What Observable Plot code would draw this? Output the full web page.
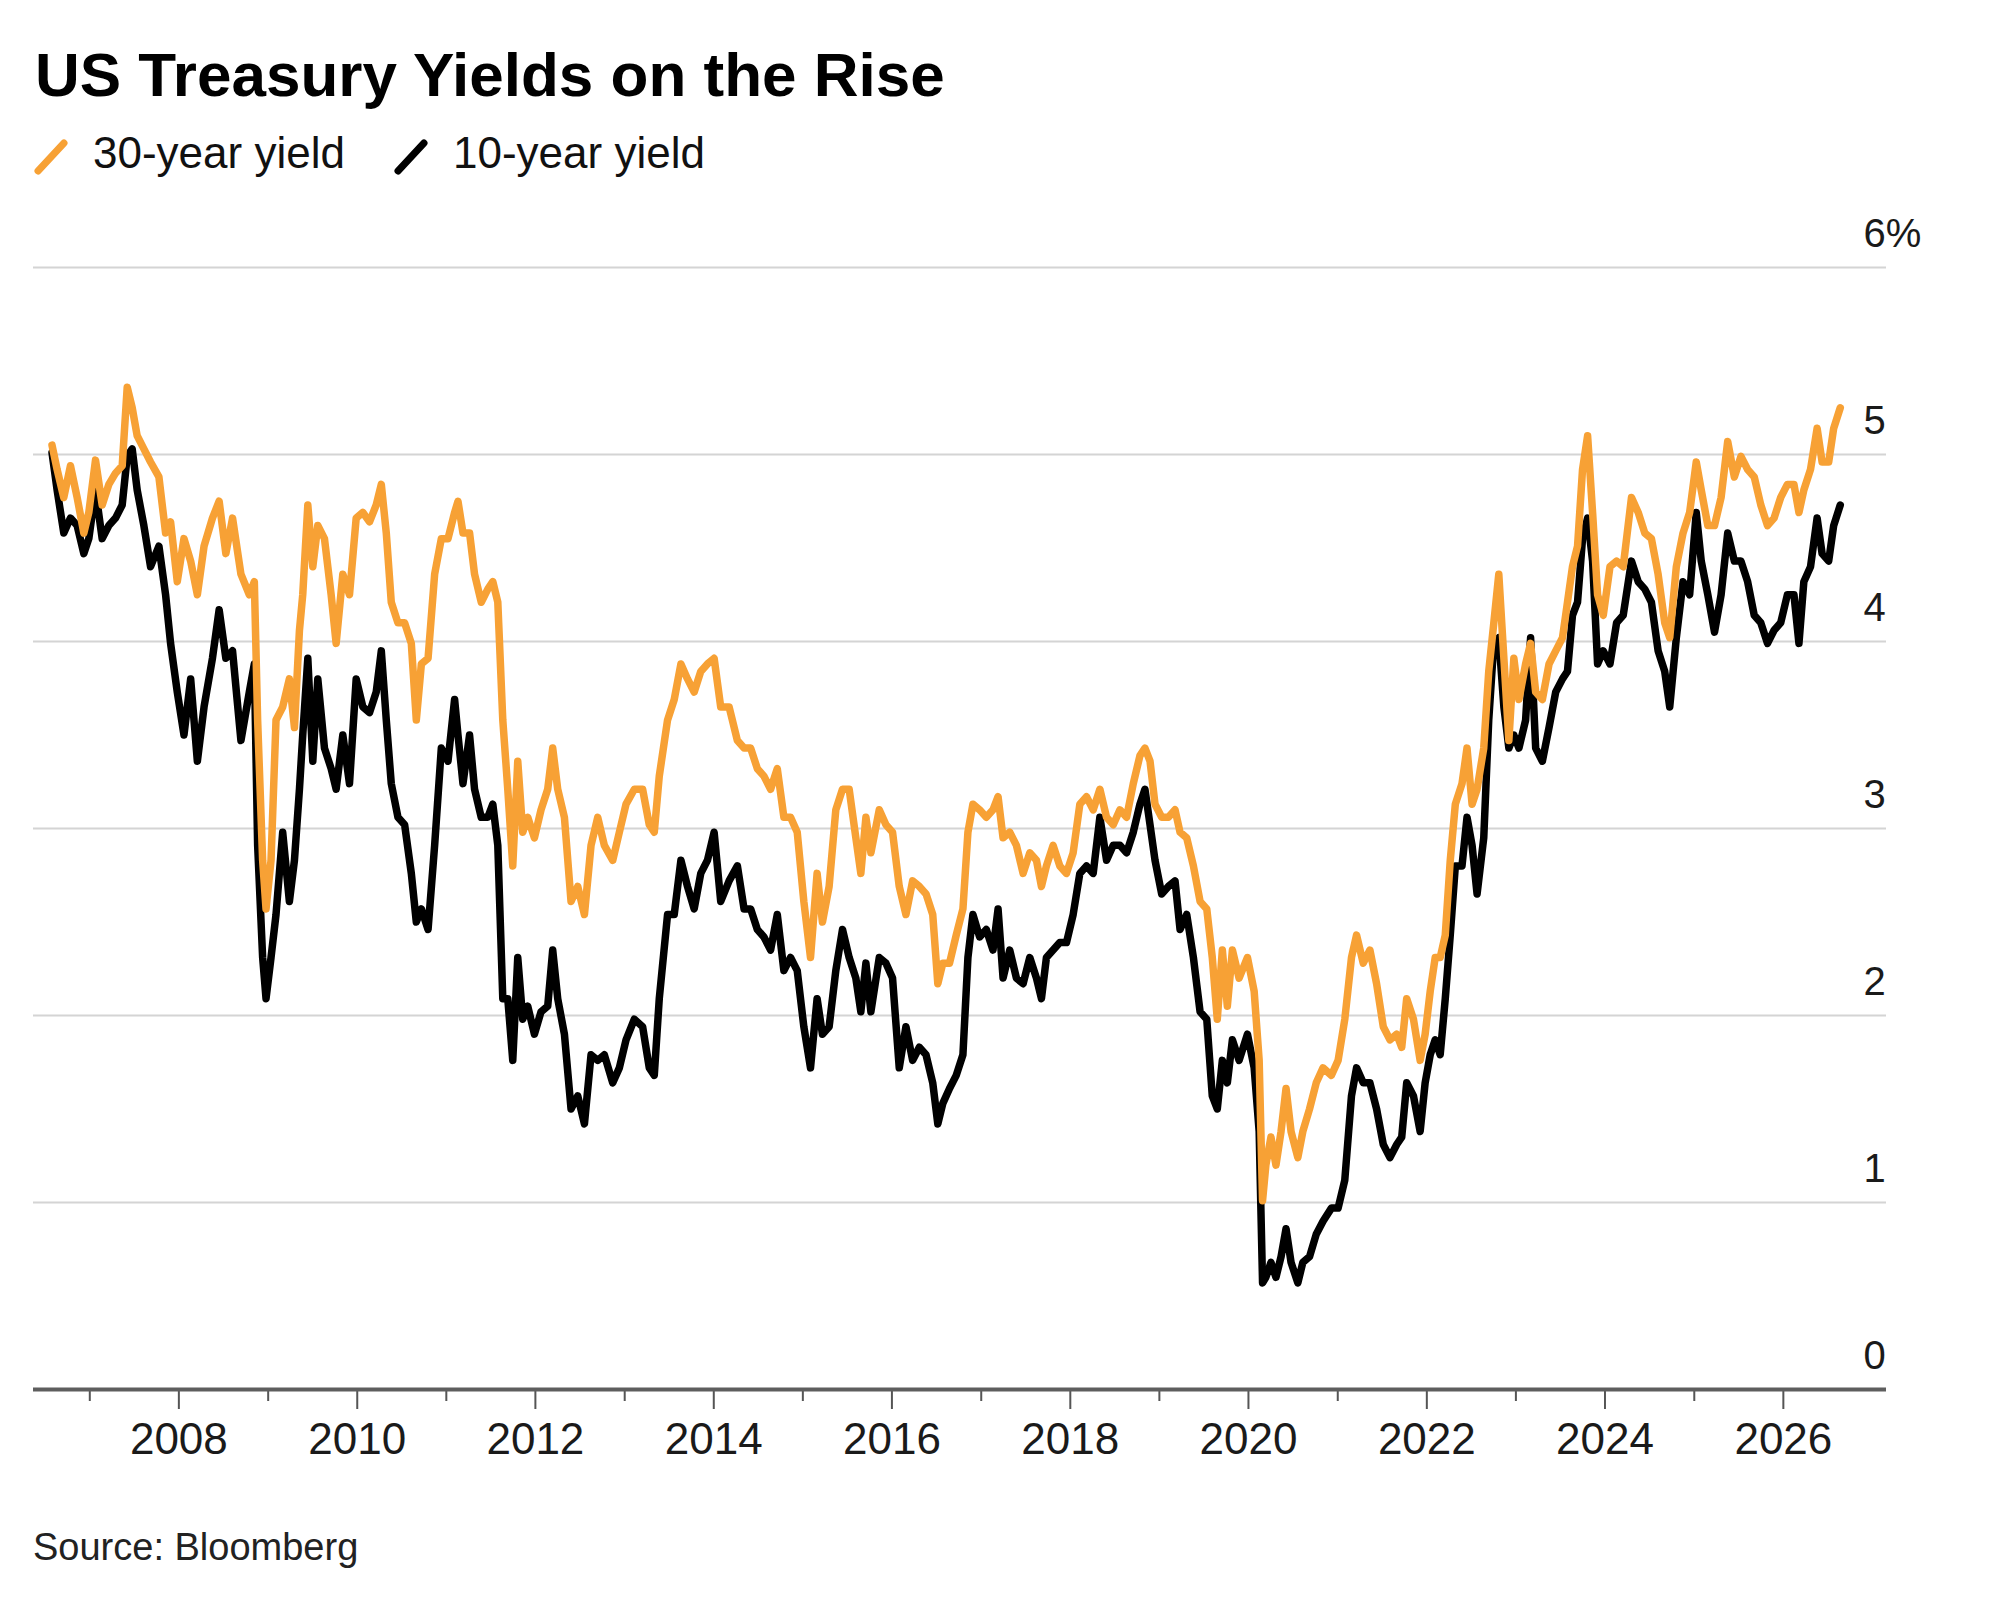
<!DOCTYPE html>
<html>
<head>
<meta charset="utf-8">
<script src="https://cdn.jsdelivr.net/npm/d3@7"></script>
<script src="https://cdn.jsdelivr.net/npm/@observablehq/plot@0.6"></script>
<style>
  html, body { margin: 0; padding: 0; background: #fff; }
  body { font-family: "Liberation Sans", Arial, Helvetica, sans-serif; color: #000; }
  #wrap { position: relative; width: 2000px; height: 1619px; overflow: hidden; }
  .title { position: absolute; left: 35px; top: 44px; font-size: 62px; line-height: 62px; font-weight: 700; white-space: nowrap; color: #000; }
  .lg-text { position: absolute; top: 131px; font-size: 44px; line-height: 44px; white-space: nowrap; color: #111; }
  .lg-sw { position: absolute; top: 139px; width: 36px; height: 36px; }
  #chart { position: absolute; left: 0; top: 200px; }
  .source { position: absolute; left: 33px; top: 1528px; font-size: 38px; line-height: 38px; color: #222; white-space: nowrap; }
</style>
</head>
<body>
<div id="wrap">
  <div class="title">US Treasury Yields on the Rise</div>
  <svg class="lg-sw" style="left:33px" viewBox="0 0 36 36"><line x1="5" y1="32" x2="31" y2="4" stroke="#f7a135" stroke-width="7" stroke-linecap="round"/></svg>
  <div class="lg-text" style="left:93px">30-year yield</div>
  <svg class="lg-sw" style="left:393px" viewBox="0 0 36 36"><line x1="5" y1="32" x2="31" y2="4" stroke="#000" stroke-width="7" stroke-linecap="round"/></svg>
  <div class="lg-text" style="left:453px">10-year yield</div>
  <div id="chart"></div>
  <div class="source">Source: Bloomberg</div>
</div>
<script>
// Decimal-year sample dates
const years = [
  2006.576,2006.633,2006.708,2006.783,2006.858,2006.933,2006.989,2007.064,2007.139,2007.214,
  2007.289,2007.364,2007.420,2007.476,2007.532,2007.607,2007.682,2007.776,2007.851,2007.907,
  2007.982,2008.057,2008.132,2008.207,2008.282,2008.376,2008.451,2008.526,2008.601,2008.695,
  2008.789,2008.845,2008.882,2008.938,2008.976,2009.032,2009.088,2009.163,2009.238,2009.295,
  2009.351,2009.388,2009.445,2009.501,2009.557,2009.632,2009.707,2009.763,2009.838,2009.913,
  2009.988,2010.063,2010.138,2010.213,2010.270,2010.326,2010.382,2010.457,2010.532,2010.607,
  2010.663,2010.720,2010.795,
  2010.869,2010.944,2011.019,2011.093,2011.131,2011.187,2011.261,2011.317,2011.392,2011.466,
  2011.522,2011.578,2011.634,2011.690,2011.746,2011.802,2011.858,2011.914,2011.989,2012.063,
  2012.138,2012.194,2012.250,2012.325,2012.399,2012.474,2012.549,2012.623,2012.698,2012.772,
  2012.866,2012.940,2013.015,2013.108,2013.201,2013.276,2013.332,2013.388,2013.481,2013.556,
  2013.631,2013.705,2013.780,2013.854,2013.929,2014.004,2014.078,2014.172,2014.265,2014.340,
  2014.414,2014.489,2014.563,2014.638,2014.713,2014.787,2014.862,2014.937,2015.011,2015.086,
  2015.160,
  2015.220,2015.295,2015.370,2015.445,2015.520,2015.595,2015.651,2015.708,2015.764,2015.858,
  2015.933,2016.007,2016.082,2016.157,2016.232,2016.307,2016.382,2016.457,2016.514,2016.570,
  2016.645,2016.720,2016.795,2016.851,2016.907,2016.982,2017.057,2017.132,2017.189,2017.245,
  2017.320,2017.395,2017.470,2017.545,2017.620,2017.676,2017.732,2017.807,2017.882,2017.957,
  2018.032,2018.107,2018.182,2018.257,2018.332,2018.407,2018.482,2018.557,2018.632,2018.707,
  2018.782,2018.838,2018.895,2018.951,2019.026,2019.101,2019.176,2019.232,2019.307,2019.382,
  2019.457,2019.532,
  2019.594,2019.650,2019.707,2019.763,2019.820,2019.895,2019.989,2020.064,2020.120,2020.158,
  2020.195,2020.252,2020.308,2020.365,2020.421,2020.477,2020.553,2020.609,2020.684,2020.759,
  2020.835,2020.929,2021.004,2021.079,2021.154,2021.211,2021.286,2021.361,2021.436,2021.511,
  2021.586,2021.662,2021.718,2021.774,2021.850,2021.925,2021.981,2022.038,2022.094,2022.150,
  2022.207,2022.263,2022.320,2022.395,2022.451,2022.508,2022.564,2022.639,2022.695,2022.752,
  2022.808,2022.865,2022.921,2022.977,2023.034,2023.109,2023.165,2023.222,2023.297,2023.372,
  2023.447,2023.523,2023.579,2023.635,2023.692,2023.748,2023.805,2023.861,2023.917,
  2023.981,2024.056,2024.130,2024.204,2024.297,2024.372,2024.446,2024.520,2024.595,2024.669,
  2024.725,2024.799,2024.874,2024.948,2025.022,2025.078,2025.152,2025.227,2025.301,2025.375,
  2025.450,2025.524,2025.599,2025.673,2025.747,2025.822,2025.896,2025.970,2026.045,2026.119,
  2026.175,2026.230,2026.305,2026.379,2026.435,2026.509,2026.565,2026.639
];

// 30-year yield, %
const y30 = [
  5.05,4.92,4.77,4.94,4.77,4.58,4.69,4.97,4.73,4.84,
  4.90,4.94,5.36,5.25,5.10,5.03,4.96,4.88,4.58,4.64,
  4.32,4.55,4.43,4.25,4.51,4.66,4.75,4.47,4.66,4.36,
  4.25,4.32,3.58,2.83,2.57,2.83,3.58,3.65,3.80,3.54,
  4.06,4.25,4.73,4.40,4.62,4.55,4.25,3.99,4.36,4.25,
  4.66,4.69,4.64,4.73,4.84,4.58,4.21,4.10,4.10,3.99,
  3.58,3.88,3.91,
  4.36,4.55,4.55,4.69,4.75,4.58,4.58,4.36,4.21,4.28,
  4.32,4.21,3.58,3.21,2.80,3.36,2.98,3.06,2.95,3.10,
  3.21,3.43,3.21,3.06,2.61,2.69,2.54,2.91,3.06,2.91,
  2.83,2.98,3.13,3.21,3.21,3.02,2.98,3.28,3.58,3.69,
  3.88,3.80,3.73,3.84,3.88,3.91,3.65,3.65,3.47,3.43,
  3.43,3.32,3.28,3.21,3.32,3.06,3.06,2.98,2.61,2.31,
  2.76,
  2.50,2.69,3.10,3.21,3.21,2.95,2.76,3.06,2.87,3.10,
  3.02,2.98,2.69,2.54,2.72,2.69,2.65,2.54,2.17,2.28,
  2.28,2.43,2.57,2.98,3.13,3.10,3.06,3.10,3.17,2.95,
  2.98,2.91,2.76,2.87,2.83,2.69,2.80,2.91,2.80,2.76,
  2.87,3.13,3.17,3.10,3.21,3.06,3.02,3.10,3.06,3.24,
  3.39,3.43,3.36,3.13,3.06,3.06,3.10,2.98,2.95,2.80,
  2.61,2.57,
  2.31,1.98,2.35,2.05,2.35,2.20,2.31,2.13,1.76,1.01,
  1.20,1.35,1.20,1.38,1.61,1.38,1.24,1.38,1.50,1.64,
  1.72,1.68,1.76,1.98,2.31,2.43,2.28,2.35,2.17,1.94,
  1.87,1.90,1.83,2.09,1.98,1.76,1.90,2.13,2.31,2.31,
  2.43,2.83,3.13,3.24,3.43,3.13,3.21,3.43,3.84,4.10,
  4.36,3.91,3.47,3.91,3.69,3.88,3.99,3.73,3.69,3.88,
  3.95,4.02,4.21,4.40,4.51,4.92,5.10,4.69,4.25,
  4.14,4.40,4.43,4.40,4.77,4.69,4.58,4.55,4.36,4.10,
  4.02,4.40,4.58,4.69,4.96,4.81,4.62,4.62,4.77,5.07,
  4.88,4.99,4.92,4.88,4.73,4.62,4.66,4.77,4.84,4.84,
  4.69,4.81,4.92,5.14,4.96,4.96,5.14,5.25
];

// 10-year yield, %
const y10 = [
  5.01,4.81,4.58,4.66,4.62,4.47,4.55,4.81,4.55,4.62,
  4.66,4.73,4.99,5.03,4.81,4.62,4.40,4.51,4.25,3.99,
  3.73,3.50,3.80,3.36,3.65,3.91,4.17,3.91,3.95,3.47,
  3.73,3.88,2.91,2.31,2.09,2.31,2.54,2.98,2.61,2.83,
  3.21,3.50,3.91,3.36,3.80,3.43,3.32,3.21,3.50,3.24,
  3.80,3.65,3.62,3.73,3.95,3.58,3.24,3.06,3.02,2.76,
  2.50,2.57,2.46,
  2.91,3.43,3.36,3.69,3.50,3.24,3.50,3.21,3.06,3.06,
  3.13,2.91,2.09,2.09,1.76,2.31,1.98,2.05,1.90,2.02,
  2.05,2.35,2.09,1.90,1.50,1.57,1.42,1.79,1.76,1.79,
  1.64,1.72,1.87,1.98,1.94,1.72,1.68,2.09,2.54,2.54,
  2.83,2.69,2.57,2.76,2.83,2.98,2.61,2.72,2.80,2.57,
  2.57,2.46,2.42,2.35,2.54,2.24,2.31,2.24,1.94,1.72,
  2.09,
  1.90,1.94,2.24,2.46,2.31,2.20,2.02,2.28,2.02,2.31,
  2.28,2.20,1.72,1.94,1.76,1.83,1.79,1.64,1.42,1.53,
  1.61,1.68,1.79,2.31,2.54,2.42,2.46,2.35,2.57,2.20,
  2.35,2.20,2.17,2.31,2.20,2.09,2.31,2.35,2.39,2.39,
  2.54,2.76,2.80,2.76,3.06,2.83,2.91,2.91,2.87,2.98,
  3.13,3.21,3.02,2.83,2.65,2.69,2.72,2.46,2.54,2.31,
  2.02,1.98,
  1.57,1.50,1.76,1.64,1.87,1.76,1.90,1.72,1.38,0.57,
  0.60,0.68,0.60,0.71,0.86,0.68,0.57,0.68,0.71,0.83,
  0.90,0.97,0.97,1.12,1.57,1.72,1.64,1.64,1.50,1.31,
  1.24,1.31,1.35,1.64,1.57,1.38,1.64,1.79,1.87,1.79,
  2.09,2.43,2.80,2.80,3.06,2.91,2.65,2.95,3.58,3.99,
  4.02,3.65,3.43,3.50,3.43,3.58,4.02,3.43,3.36,3.54,
  3.73,3.80,3.84,4.14,4.21,4.55,4.66,4.43,3.88,
  3.95,3.88,4.10,4.14,4.43,4.32,4.28,4.21,3.95,3.84,
  3.65,4.02,4.32,4.25,4.69,4.43,4.25,4.05,4.25,4.58,
  4.43,4.43,4.32,4.14,4.10,3.99,4.06,4.10,4.25,4.25,
  3.99,4.32,4.40,4.66,4.47,4.43,4.62,4.73
];

const yTicks = [0, 1, 2, 3, 4, 5, 6];
const labelYears = [2008, 2010, 2012, 2014, 2016, 2018, 2020, 2022, 2024, 2026];
const minorYears = [2007, 2009, 2011, 2013, 2015, 2017, 2019, 2021, 2023, 2025];
const xDomainYears = [2006.368, 2027.158];

const toDate = (y) => {
  const Y = Math.floor(y);
  const a = Date.UTC(Y, 0, 1), b = Date.UTC(Y + 1, 0, 1);
  return new Date(a + (y - Y) * (b - a));
};

const data30 = years.map((t, i) => ({ date: toDate(t), value: y30[i] }));
const data10 = years.map((t, i) => ({ date: toDate(t), value: y10[i] }));

const chart = Plot.plot({
  width: 2000,
  height: 1300,
  marginLeft: 33,
  marginRight: 114,
  marginTop: 67,
  marginBottom: 111,
  style: { fontFamily: '"Liberation Sans", Arial, Helvetica, sans-serif', background: "#fff", overflow: "visible" },
  x: { type: "utc", domain: xDomainYears.map(toDate), label: null },
  y: { domain: [0, 6], label: null },
  marks: [
    Plot.ruleY(yTicks.filter(d => d > 0), { stroke: "#d4d4d4", strokeWidth: 2 }),
    Plot.axisX({ ticks: minorYears.map(y => toDate(y)), tickSize: 12, tickFormat: () => "", label: null, stroke: "#555", strokeWidth: 2 }),
    Plot.axisX({ ticks: labelYears.map(y => toDate(y)), tickSize: 20, tickPadding: 13, tickFormat: d3.utcFormat("%Y"), label: null, fontSize: 44, stroke: "#555", strokeWidth: 2, fill: "#1a1a1a" }),
    Plot.ruleY([0], { stroke: "#5e5e5e", strokeWidth: 4 }),
    Plot.axisY({ ticks: yTicks, anchor: "right", label: null, tickSize: 0, tickPadding: 0, textAnchor: "start", dx: -23, dy: -33, fontSize: 40, fill: "#1a1a1a", tickFormat: d => d === 6 ? "6%" : String(d) }),
    Plot.line(data10, { x: "date", y: "value", stroke: "#000", strokeWidth: 7.5, strokeLinejoin: "round" }),
    Plot.line(data30, { x: "date", y: "value", stroke: "#f7a135", strokeWidth: 7.5, strokeLinejoin: "round" })
  ]
});
document.getElementById("chart").appendChild(chart);
</script>
</body>
</html>
